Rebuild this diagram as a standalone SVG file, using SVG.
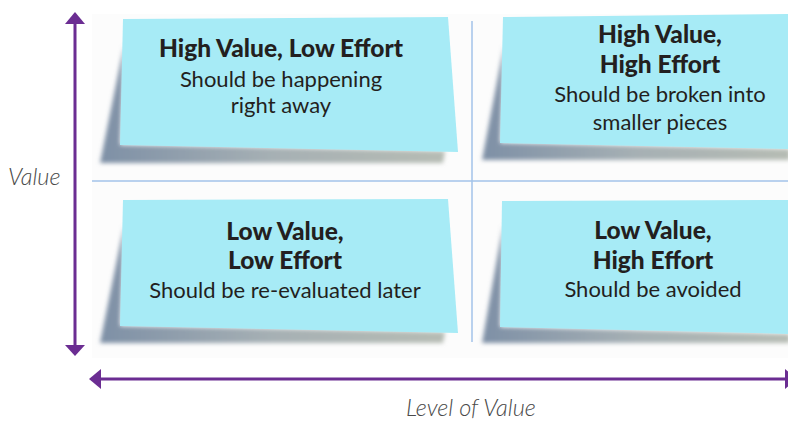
<svg xmlns="http://www.w3.org/2000/svg" width="788" height="421" viewBox="0 0 788 421">
  <defs>
    <linearGradient id="shadowGrad" x1="0" y1="0" x2="1" y2="0">
      <stop offset="0" stop-color="#7e90a6"/>
      <stop offset="0.5" stop-color="#a6b0b4"/>
      <stop offset="1" stop-color="#b6bcb4"/>
    </linearGradient>
    <filter id="blur" x="-10%" y="-10%" width="120%" height="130%">
      <feGaussianBlur stdDeviation="2"/>
    </filter>
    <style>
      .note { fill: #a7ebf6; }
      .shadow { fill: url(#shadowGrad); filter: url(#blur); }
      .title { font-family: Lato, "Open Sans", sans-serif; font-weight: 900; font-size: 24.5px; fill: #231f20; text-anchor: middle; }
      .body { font-family: Lato, "Open Sans", sans-serif; font-size: 22px; fill: #231f20; text-anchor: middle; }
      .axis { font-family: Lato, "Open Sans", sans-serif; font-style: italic; font-weight: 300; font-size: 23.5px; fill: #4a4a4a; }
      .grid { stroke: #a3c3ea; stroke-width: 1.5; fill: none; }
      .axisLine { stroke: #6b2d92; stroke-width: 3; fill: none; }
      .head { fill: #6b2d92; }
    </style>
  </defs>

  <rect x="0" y="0" width="788" height="421" fill="#ffffff"/>
  <rect x="92" y="14" width="696" height="344" fill="#fcfcfc"/>

  <g id="grid">
    <line class="grid" x1="92" y1="181" x2="788" y2="181"/>
    <line class="grid" x1="472" y1="21" x2="472" y2="342"/>
  </g>

  <g id="note-high-value-low-effort">
    <polygon class="shadow" points="124,45 120,145 445,151 443,163 100,163"/>
    <polygon class="note" points="123,19 448,17 458,152 120,145"/>
    <text class="title" x="281" y="57">High Value, Low Effort</text>
    <text class="body" x="281" y="87">Should be happening</text>
    <text class="body" x="281" y="113">right away</text>
  </g>

  <g id="note-high-value-high-effort">
    <polygon class="shadow" points="504,45 500,143 790,149 790,160 482,160"/>
    <polygon class="note" points="503,17 790,14 790,149 500,143"/>
    <text class="title" x="660" y="43">High Value,</text>
    <text class="title" x="660" y="73">High Effort</text>
    <text class="body" x="660" y="102">Should be broken into</text>
    <text class="body" x="660" y="130">smaller pieces</text>
  </g>

  <g id="note-low-value-low-effort">
    <polygon class="shadow" points="124,225 120,326 445,332 443,343 100,343"/>
    <polygon class="note" points="123,200 448,199 458,333 120,326"/>
    <text class="title" x="285" y="240">Low Value,</text>
    <text class="title" x="285" y="269">Low Effort</text>
    <text class="body" x="285" y="298">Should be re-evaluated later</text>
  </g>

  <g id="note-low-value-high-effort">
    <polygon class="shadow" points="503,225 500,327 790,334 790,343 482,343"/>
    <polygon class="note" points="502,201 790,200 790,334 500,327"/>
    <text class="title" x="653" y="239">Low Value,</text>
    <text class="title" x="653" y="269">High Effort</text>
    <text class="body" x="653" y="297">Should be avoided</text>
  </g>

  <g id="connectors">
    <line class="axisLine" x1="75" y1="20" x2="75" y2="348"/>
    <polygon class="head" points="75,12 65,24 85,24"/>
    <polygon class="head" points="75,356 65,345 85,345"/>
    <line class="axisLine" x1="98" y1="379" x2="788" y2="379"/>
    <polygon class="head" points="89,379 101,369 101,389"/>
    <polygon class="head" points="797,379 785,369 785,389"/>
  </g>

  <g id="labels">
    <text class="axis" x="8" y="185">Value</text>
    <text class="axis" x="406" y="416">Level of Value</text>
  </g>
</svg>
